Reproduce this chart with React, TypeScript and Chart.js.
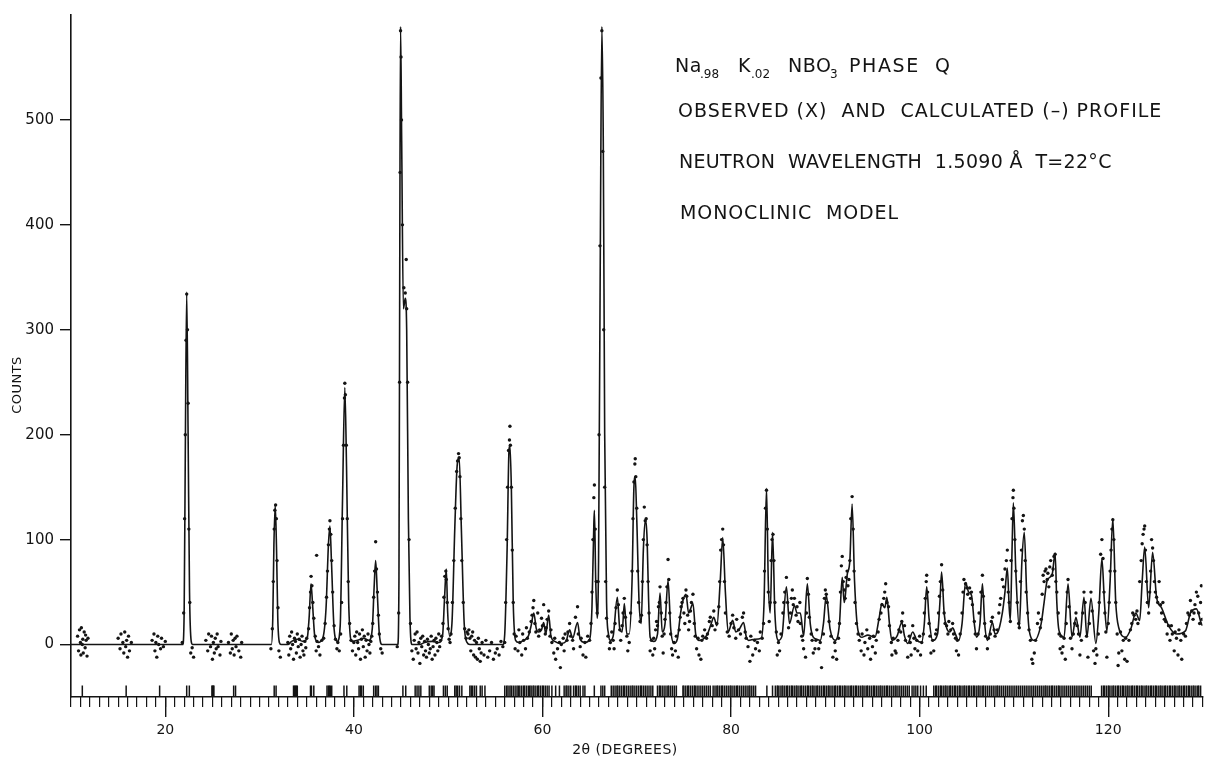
import React, { useEffect, useRef } from "react";
import { Chart, registerables } from "chart.js";
Chart.register(...registerables);

// Calculated profile (2theta in degrees, counts)
const calcX = [10.0,21.85,22.0,22.12,22.27,22.42,22.57,22.75,22.9,31.25,31.4,31.52,31.66,31.8,31.93,32.1,32.3,33.0,33.4,34.0,34.6,35.05,35.25,35.46,35.62,35.85,36.2,36.7,37.05,37.3,37.46,37.62,37.9,38.25,38.55,38.8,39.04,39.22,39.45,39.8,40.4,41.0,41.6,41.95,42.15,42.31,42.48,42.7,43.0,44.65,44.78,44.87,44.95,45.07,45.25,45.45,45.6,45.78,45.95,46.15,47.0,47.5,48.3,49.0,49.4,49.62,49.8,49.95,50.15,50.4,50.7,50.95,51.17,51.4,51.7,52.0,52.3,55.8,56.0,56.25,56.45,56.55,56.7,56.9,57.15,57.5,58.0,58.5,58.8,59.08,59.35,59.6,59.9,60.13,60.35,60.66,60.9,61.3,62.0,62.5,62.88,63.2,63.72,64.0,64.5,65.0,65.25,65.45,65.51,65.65,65.8,65.95,66.15,66.3,66.45,66.6,66.8,67.0,67.2,67.5,67.94,68.2,68.45,68.68,68.95,69.2,69.5,69.7,69.84,70.0,70.25,70.47,70.7,70.89,71.1,71.25,71.42,71.8,72.2,72.47,72.7,73.0,73.32,73.6,73.95,74.3,74.65,74.9,75.22,75.5,75.96,76.25,76.59,77.0,77.5,77.9,78.17,78.5,78.85,79.12,79.4,79.7,80.17,80.5,80.9,81.33,81.6,81.86,82.5,83.2,83.5,83.76,83.95,84.15,84.4,84.65,85.03,85.4,85.87,86.2,86.72,87.0,87.35,87.7,88.09,88.4,88.72,89.1,89.46,89.8,90.1,90.5,91.05,91.5,91.79,92.0,92.1,92.31,92.6,92.84,93.1,93.47,93.9,94.5,95.26,95.7,96.0,96.3,96.53,96.8,97.06,97.6,98.11,98.4,98.74,99.27,99.7,100.22,100.5,100.75,101.0,101.38,101.9,102.15,102.33,102.6,102.86,103.2,103.5,103.8,104.13,104.5,104.87,105.2,105.5,105.8,106.03,106.4,106.66,106.9,107.19,107.72,108.0,108.24,108.77,109.05,109.3,109.5,109.62,109.8,109.94,110.2,110.57,110.85,111.1,111.35,111.63,112.16,112.89,113.2,113.53,114.06,114.37,114.55,114.79,115.32,115.74,116.16,116.58,117.0,117.43,117.74,118.17,118.69,119.0,119.33,119.6,119.86,120.2,120.49,120.8,121.12,121.86,122.4,122.92,123.34,123.6,123.87,124.29,124.71,125.13,125.66,126.4,127.24,128.19,128.72,129.35,129.88,130.0];
const calcY = [0,0,30,180,336,200,50,3,0,0,25,95,133,90,25,2,0,0,3,5,3,6,25,58,38,8,2,6,35,95,113,80,15,3,18,140,245,170,40,3,4,6,4,15,55,80,50,10,0,0,60,380,589,480,320,330,300,120,25,0,0,2,3,2,8,45,72,30,8,20,110,170,178,110,20,2,0,0,10,90,185,190,150,40,4,2,4,8,18,30,15,12,14,21,10,28,8,3,1,3,14,6,21,5,2,5,35,115,128,60,25,80,400,589,480,200,40,10,4,8,45,15,12,39,10,10,60,150,160,120,40,20,90,118,100,45,7,3,10,49,12,20,61,15,1,5,30,42,48,30,39,10,4,5,10,20,26,18,60,102,50,12,23,12,15,21,8,4,5,6,40,149,60,30,107,30,4,8,55,20,37,30,30,8,58,20,7,5,4,20,47,15,4,20,64,40,45,66,80,134,60,13,7,9,7,25,39,35,45,20,4,8,21,8,1,12,4,2,20,55,25,4,10,40,69,30,16,12,16,10,4,20,59,50,47,20,7,20,58,20,4,21,10,11,30,50,73,35,23,90,135,70,16,80,107,50,13,4,20,40,61,67,87,40,13,7,58,7,26,7,45,7,44,1,30,82,40,13,60,120,40,16,7,15,30,23,60,93,35,88,45,35,18,10,13,30,34,20,18];

// Observed counts
const obsX = [10.7,10.8,10.9,11.0,11.05,11.1,11.2,11.25,11.3,11.4,11.5,11.55,11.6,11.7,11.8,
15.0,15.2,15.3,15.5,15.6,15.7,15.8,15.9,16.0,16.1,16.2,16.4,
18.6,18.8,18.9,19.0,19.1,19.2,19.3,19.5,19.6,19.8,20.0,
21.8,21.95,22.05,22.12,22.2,22.27,22.35,22.42,22.5,22.6,22.7,22.85,23.0,
24.3,24.5,24.6,24.8,24.9,25.0,25.1,25.2,25.3,25.4,25.5,25.6,25.8,25.9,
26.7,26.9,27.0,27.1,27.2,27.3,27.4,27.5,27.6,27.8,28.0,28.1,
31.2,31.35,31.45,31.55,31.62,31.7,31.78,31.85,31.95,32.05,32.2,
33.0,33.1,33.2,33.3,33.4,33.5,33.6,33.7,33.8,33.9,34.0,34.1,34.2,34.3,34.4,34.5,34.6,34.7,34.8,34.9,35.0,
35.2,35.3,35.4,35.46,35.55,35.65,35.75,35.9,36.0,36.05,36.1,36.25,36.4,36.6,
36.8,36.95,37.1,37.2,37.3,37.4,37.46,37.55,37.65,37.75,37.9,38.05,38.2,38.3,38.45,
38.6,38.7,38.8,38.9,39.0,39.04,39.1,39.2,39.3,39.4,39.55,39.7,39.85,40.0,
40.1,40.2,40.3,40.4,40.5,40.6,40.7,40.8,40.9,41.0,41.1,41.2,41.3,41.4,41.5,41.6,41.7,41.8,
41.9,42.0,42.1,42.2,42.31,42.4,42.5,42.6,42.7,42.85,43.0,
44.6,44.75,44.85,44.9,44.95,45.0,45.05,45.15,45.3,45.45,45.55,45.6,45.7,45.85,46.0,46.15,
46.3,46.4,46.5,46.6,46.7,46.8,46.9,47.0,47.1,47.2,47.3,47.4,47.5,47.6,47.7,47.8,47.9,48.0,48.1,48.2,48.3,48.4,48.5,48.6,48.7,48.8,48.9,49.0,49.1,49.2,49.3,
49.45,49.55,49.65,49.75,49.8,49.9,50.0,50.1,50.2,50.3,
50.45,50.6,50.75,50.9,51.0,51.1,51.17,51.25,51.35,51.45,51.6,51.75,51.9,52.0,
52.1,52.2,52.3,52.4,52.5,52.6,52.7,52.8,52.9,53.0,53.1,53.2,53.3,53.4,53.5,53.6,53.8,54.0,54.2,54.4,54.6,54.8,55.0,55.2,55.4,55.6,55.8,
56.0,56.1,56.2,56.3,56.4,56.5,56.55,56.6,56.7,56.8,56.9,57.0,57.1,
57.2,57.4,57.5,57.6,57.8,57.9,58.0,58.2,58.3,58.4,58.6,58.8,58.9,59.0,59.08,59.2,59.3,59.5,59.6,59.7,59.9,60.0,60.13,60.3,60.4,60.5,60.66,60.8,60.9,61.0,61.2,61.3,61.4,61.6,61.8,61.9,62.0,62.2,62.3,62.4,62.6,62.7,62.88,63.0,63.2,63.3,63.5,63.72,63.8,64.0,64.1,64.3,64.5,64.6,64.8,65.0,
65.15,65.25,65.35,65.45,65.51,65.6,65.7,65.8,65.9,66.0,66.1,66.2,66.3,66.4,66.5,66.6,66.7,66.8,66.95,67.1,67.2,
67.35,67.5,67.6,67.7,67.8,67.94,68.05,68.2,68.3,68.45,68.55,68.68,68.8,68.95,69.05,69.2,69.35,
69.5,69.6,69.7,69.8,69.84,69.9,70.0,70.1,70.2,70.35,
70.5,70.6,70.7,70.8,70.9,71.0,71.1,71.2,71.3,71.42,71.55,
71.7,71.8,71.9,72.0,72.1,72.2,72.3,72.4,72.47,72.6,72.7,72.8,72.9,73.0,73.1,73.2,73.32,73.4,73.5,73.6,73.7,73.8,73.95,74.1,74.2,74.4,74.5,74.6,74.7,74.8,74.9,75.0,75.1,75.22,75.3,75.4,75.5,75.6,75.7,75.8,75.96,76.1,76.2,76.35,76.5,76.6,76.8,76.9,77.0,
77.2,77.4,77.5,77.7,77.8,78.0,78.17,78.3,78.5,78.7,78.8,78.9,79.0,79.12,79.2,79.3,79.4,79.6,79.8,80.0,80.17,80.3,80.5,80.6,80.8,81.0,81.2,81.33,81.5,81.6,81.8,82.0,82.1,82.3,82.5,82.6,82.8,83.0,83.1,83.3,
83.45,83.55,83.65,83.76,83.85,83.95,84.05,84.15,84.25,84.35,84.45,84.55,84.65,84.8,84.9,85.03,85.15,
85.3,85.5,85.6,85.7,85.87,86.0,86.1,86.3,86.4,86.5,86.6,86.72,86.9,87.0,87.1,87.3,87.35,87.5,87.6,87.7,87.9,88.0,88.09,88.2,88.3,88.5,88.6,88.72,88.9,89.0,89.1,89.3,89.46,89.6,89.8,89.9,90.0,90.1,90.2,90.4,90.6,90.8,91.0,91.05,91.2,91.4,
91.5,91.6,91.7,91.79,91.9,92.0,92.1,92.2,92.31,92.4,92.5,92.6,92.7,92.84,92.95,93.05,93.15,93.3,93.47,
93.6,93.8,93.9,94.1,94.2,94.4,94.5,94.7,94.8,95.0,95.1,95.3,95.4,95.6,95.7,95.9,96.0,96.2,96.3,96.4,96.53,96.7,96.8,97.0,97.06,97.2,97.4,97.5,97.7,97.8,98.0,98.11,98.2,98.4,98.5,98.74,98.9,99.0,99.1,99.27,99.4,99.5,
99.7,99.8,100.0,100.1,100.22,100.4,100.5,100.6,100.7,100.75,100.85,101.0,101.1,101.2,101.38,101.5,101.7,101.8,102.0,102.1,102.2,102.33,102.45,102.6,102.7,102.86,103.0,103.1,103.3,103.5,103.6,103.8,103.9,104.0,104.13,
104.3,104.5,104.6,104.7,104.87,105.0,105.1,105.3,105.4,105.5,105.6,105.8,105.9,106.03,106.2,106.3,106.5,106.66,106.75,106.9,107.0,107.19,107.3,107.5,107.6,107.72,107.9,108.0,108.24,108.4,
108.5,108.6,108.77,108.9,109.05,109.2,109.3,109.4,109.5,109.62,109.7,109.8,109.9,109.94,110.0,110.1,110.2,110.35,110.5,110.57,110.7,110.8,110.9,111.0,111.1,111.2,111.3,111.45,111.6,111.75,111.9,112.0,112.16,
112.3,112.5,112.6,112.8,112.89,113.0,113.1,113.2,113.3,113.4,113.53,113.6,113.7,113.8,113.9,114.06,114.15,114.25,114.37,114.45,114.55,114.7,114.79,114.9,115.0,115.1,115.2,115.32,115.45,
115.55,115.65,115.74,115.85,116.0,116.16,116.3,116.45,116.58,116.7,116.85,117.0,117.15,117.3,117.43,117.55,117.7,117.85,118.0,118.17,118.3,118.45,118.6,118.69,118.8,118.95,119.05,
119.2,119.33,119.45,119.55,119.65,119.75,119.86,120.0,120.1,120.2,120.3,120.4,120.49,120.6,120.7,120.8,120.95,121.05,121.12,121.3,121.45,121.6,121.75,121.86,122.0,
122.2,122.35,122.5,122.6,122.75,122.92,123.05,123.15,123.34,123.5,123.6,123.7,123.8,123.87,123.95,124.05,124.15,124.29,124.4,124.5,124.6,124.71,124.8,124.9,125.0,125.13,125.25,125.4,125.55,125.66,125.8,125.95,126.1,126.25,126.4,
126.55,126.7,126.8,127.0,127.1,127.24,127.4,127.5,127.7,127.8,128.0,128.19,128.3,128.45,128.6,128.72,128.85,129.0,129.1,129.2,129.35,129.5,129.6,129.7,129.8,129.88,129.95];
const obsY = [8,-6,14,2,-10,16,0,5,-8,12,-3,9,4,-11,6,
6,-4,10,2,-8,12,-2,4,-12,8,-6,2,
4,10,-6,2,-12,8,0,-4,6,-2,3,
2,30,120,200,290,334,300,230,110,40,-8,-3,-12,
4,-6,10,-2,8,-14,2,-8,6,-4,10,-2,-10,3,
2,-8,10,-4,4,-10,6,-2,8,-6,-12,2,
-4,15,60,110,128,133,120,80,35,-6,-12,
2,-10,8,-4,12,0,-14,6,3,-8,10,-2,5,-12,0,8,-6,-10,3,-3,6,
15,35,50,65,56,40,25,8,-6,85,3,-2,-10,4,
6,20,45,70,95,110,118,105,80,50,18,5,-4,2,-6,
10,40,120,190,235,249,238,190,120,60,20,4,-6,2,
8,-10,12,2,-4,10,-14,5,14,-2,8,-12,4,-6,10,0,-8,3,
8,20,45,70,98,72,50,28,10,-4,-8,
-2,30,250,450,585,560,500,400,340,335,367,320,250,100,20,-6,
-14,4,10,-4,12,-8,2,-18,6,-2,8,-10,3,-6,-12,5,0,-8,-4,8,-14,-2,4,-10,6,2,-6,10,-2,4,8,
20,45,65,70,62,40,15,5,2,10,
40,80,130,165,175,182,178,160,120,80,40,15,6,12,
10,14,6,-6,8,12,-10,4,-12,2,-14,6,-4,-16,-8,2,-10,4,-12,-6,2,-14,-8,-4,-10,3,-2,
2,40,100,150,185,195,208,190,150,90,40,10,-4,
8,-6,14,2,-10,10,4,-4,16,6,12,22,28,35,42,20,12,30,8,14,25,18,38,10,16,24,32,8,14,2,-8,6,-14,-4,2,-22,0,6,-6,10,4,12,20,8,4,-4,26,36,10,-2,6,-10,2,-12,8,4,
20,50,100,140,152,110,60,30,60,200,380,540,585,470,300,150,60,25,8,-4,2,
12,4,-4,20,35,52,38,14,4,18,30,44,26,8,-6,2,30,
70,120,155,172,177,160,130,70,40,22,
28,60,100,131,118,120,95,60,30,-6,4,
-10,6,-4,14,22,18,36,40,55,30,8,-8,10,24,40,55,81,62,30,10,-4,-10,2,-6,8,-12,14,26,36,40,44,30,20,52,46,28,14,22,32,40,48,20,8,-4,6,-10,-14,4,8,
14,6,10,22,26,18,32,14,20,36,60,90,100,110,95,60,30,12,8,20,28,16,6,24,14,10,26,30,12,6,-2,-16,8,-10,4,-4,2,-6,12,6,
20,70,130,147,110,50,22,40,80,100,105,80,40,12,-10,2,-6,
10,30,40,50,64,40,16,30,44,52,38,44,28,36,22,40,20,8,4,-4,-12,30,63,48,26,10,4,-8,-4,4,14,-4,2,-22,10,44,52,48,40,22,8,-12,2,-6,-14,6,
20,50,75,84,60,52,44,64,70,56,62,80,120,141,110,70,40,20,10,
4,-6,10,-10,2,14,-4,6,-14,-2,8,-8,4,12,24,30,38,44,50,58,40,36,18,2,-10,6,-6,-8,4,14,12,22,30,18,4,-12,8,2,-10,18,6,-4,
4,-6,8,-10,2,10,30,44,60,66,50,20,8,-8,4,-6,10,14,30,46,60,76,52,30,20,18,10,22,14,20,10,6,-6,4,-10,
10,30,50,62,58,54,48,54,44,50,38,22,10,-4,10,30,50,66,46,20,8,-4,6,10,22,26,14,8,14,30,
38,44,62,55,72,80,90,50,40,22,80,120,140,147,130,100,70,40,20,16,60,90,118,123,110,80,50,30,14,4,-14,-18,-8,
4,20,30,16,24,48,66,60,70,72,62,68,55,74,80,66,72,84,86,60,50,30,10,-4,8,-8,-2,6,-14,
20,50,62,36,6,-4,10,20,30,18,10,-10,4,30,50,40,8,-12,20,50,32,-6,-18,-4,-10,10,40,
86,100,82,50,30,12,-12,20,40,70,90,110,119,100,70,40,10,-20,-8,12,-6,4,-14,6,-16,
4,14,20,30,28,24,32,20,60,80,96,105,110,113,90,60,40,30,50,70,100,92,80,60,50,45,40,60,38,30,40,24,22,10,18,
4,18,10,-6,12,6,-10,14,4,-14,10,8,20,30,28,42,32,24,30,38,50,46,30,20,40,56,24];

// Bragg reflection positions (tick marks under the pattern)
const reflX = [11.2,15.85,19.4,22.27,22.55,24.95,25.0,25.1,25.15,27.25,27.45,31.55,31.75,33.6,33.7,33.8,33.9,34.0,35.4,35.5,35.75,37.15,37.3,37.4,37.5,37.65,38.95,39.25,40.55,40.7,40.8,41.0,42.1,42.3,42.45,42.6,45.2,45.5,46.5,46.7,46.9,47.1,48.0,48.2,48.35,48.5,49.5,49.7,49.9,50.7,50.85,51.0,51.2,51.45,52.3,52.45,52.6,52.8,53.0,53.4,53.6,53.9,56.0,56.2,56.35,56.55,56.7,56.9,57.1,57.3,57.45,57.6,57.8,58.0,58.1,58.3,58.5,58.65,58.8,59.0,59.1,59.3,59.5,59.6,59.8,60.0,60.1,60.3,60.5,60.7,61.0,61.4,61.8,62.3,62.5,62.6,62.8,63.0,63.3,63.5,63.6,63.8,64.0,64.3,64.5,65.5,66.2,66.4,66.6,67.3,67.5,67.7,67.9,68.0,68.2,68.4,68.6,68.7,68.9,69.1,69.3,69.5,69.6,69.8,70.0,70.2,70.4,70.5,70.7,70.9,71.1,71.3,71.5,71.7,72.2,72.4,72.5,72.7,72.9,73.1,73.3,73.4,73.6,73.8,74.0,74.2,74.9,75.0,75.2,75.4,75.5,75.7,75.9,76.1,76.2,76.4,76.6,76.8,77.0,77.2,77.4,77.6,77.8,78.1,78.3,78.5,78.6,78.8,79.0,79.1,79.3,79.5,79.7,79.9,80.0,80.2,80.4,80.6,80.7,80.9,81.1,81.3,81.5,81.7,81.9,82.0,82.2,82.4,82.6,83.8,84.4,84.7,84.9,85.0,85.2,85.4,85.5,85.7,85.9,86.0,86.2,86.4,86.5,86.7,86.9,87.0,87.2,87.4,87.5,87.7,87.9,88.1,88.2,88.4,88.6,88.7,88.9,89.1,89.2,89.4,89.6,89.8,89.9,90.1,90.3,90.4,90.6,90.8,91.0,91.1,91.3,91.5,91.6,91.8,92.0,92.1,92.3,92.5,92.7,92.8,93.0,93.2,93.3,93.5,93.7,93.9,94.0,94.2,94.4,94.5,94.7,94.9,95.1,95.2,95.4,95.6,95.8,95.9,96.1,96.3,96.5,96.6,96.8,97.0,97.2,97.4,97.5,97.7,97.9,98.1,98.3,98.5,98.7,98.9,99.2,99.4,99.6,99.8,100.1,100.4,100.7,101.5,101.7,101.8,102.0,102.2,102.3,102.5,102.7,102.8,103.0,103.2,103.3,103.5,103.7,103.8,104.0,104.2,104.3,104.5,104.7,104.8,105.0,105.2,105.3,105.5,105.7,105.8,106.0,106.2,106.3,106.5,106.7,106.8,107.0,107.2,107.4,107.6,107.8,108.0,108.2,108.3,108.5,108.7,108.9,109.1,109.3,109.5,109.7,109.9,110.1,110.3,110.5,110.7,110.9,111.1,111.3,111.5,111.7,111.9,112.1,112.3,112.5,112.7,112.9,113.1,113.3,113.4,113.6,113.8,114.0,114.1,114.3,114.5,114.7,114.8,115.0,115.2,115.4,115.6,115.8,116.0,116.2,116.4,116.6,116.8,117.0,117.2,117.4,117.6,117.8,118.0,118.2,119.3,119.5,119.6,119.8,120.0,120.1,120.3,120.5,120.6,120.8,121.0,121.1,121.3,121.5,121.6,121.8,122.0,122.1,122.3,122.5,122.6,122.8,123.0,123.1,123.3,123.5,123.6,123.8,124.0,124.1,124.3,124.5,124.6,124.8,125.0,125.1,125.3,125.5,125.6,125.8,126.0,126.1,126.3,126.5,126.6,126.8,127.0,127.1,127.3,127.5,127.6,127.8,128.0,128.1,128.3,128.5,128.6,128.8,129.0,129.1,129.3,129.5,129.6,129.8];
const reflLevel = -44.8;

const xMajorTicks = [20, 40, 60, 80, 100, 120];
const yTicks = [0, 100, 200, 300, 400, 500];

const INK = "#141414";
const FONT = "'DejaVu Sans', sans-serif";

export default function App() {
  const ref = useRef<HTMLCanvasElement | null>(null);
  useEffect(() => {
    document.body.style.margin = "0";
    const canvas = ref.current!;
    const annot = {
      id: "annot",
      afterDraw(chart: any) {
        const c = chart.ctx as CanvasRenderingContext2D;
        c.save();
        c.fillStyle = INK;
        c.textBaseline = "alphabetic";
        c.textAlign = "left";
        const big = `19px ${FONT}`;
        const small = `12px ${FONT}`;
        const seg = (t: string, x: number, y: number, f: string, ls: string) => {
          c.font = f;
          (c as any).letterSpacing = ls;
          c.fillText(t, x, y);
        };
        // line 1 with subscripts
        seg("Na", 675, 72, big, "0.5px");
        seg(".98", 700, 78, small, "0px");
        seg("K", 738, 72, big, "0.5px");
        seg(".02", 751, 78, small, "0px");
        seg("NBO", 788, 72, big, "0.5px");
        seg("3", 830, 78, small, "0px");
        seg("PHASE  Q", 849, 72, big, "1.6px");
        seg("OBSERVED (X)  AND  CALCULATED (–) PROFILE", 678, 117, big, "1.0px");
        seg("NEUTRON  WAVELENGTH  1.5090 Å  T=22°C", 679, 168, big, "0.3px");
        seg("MONOCLINIC  MODEL", 680, 219, big, "0.9px");
        // axis titles
        (c as any).letterSpacing = "0.5px";
        c.font = `14px ${FONT}`;
        c.textAlign = "center";
        c.textBaseline = "middle";
        c.fillText("2θ (DEGREES)", 625, 750);
        c.translate(18, 385);
        c.rotate(-Math.PI / 2);
        c.font = `13px ${FONT}`;
        c.fillText("COUNTS", 0, 0);
        c.restore();
      },
    };
    const chart = new Chart(canvas, {
      type: "scatter",
      data: {
        datasets: [
          {
            type: "line",
            data: calcX.map((x, i) => ({ x, y: calcY[i] })),
            borderColor: INK,
            borderWidth: 1.6,
            pointRadius: 0,
            cubicInterpolationMode: "monotone",
            fill: false,
          } as any,
          {
            type: "scatter",
            data: obsX.map((x, i) => ({ x, y: obsY[i] })),
            pointRadius: 1.7,
            pointStyle: "circle",
            backgroundColor: INK,
            borderWidth: 0,
          },
          {
            type: "scatter",
            data: reflX.map((x) => ({ x, y: reflLevel })),
            pointStyle: "line",
            pointRadius: 6,
            rotation: 90,
            borderColor: INK,
            borderWidth: 1.5,
          } as any,
        ],
      },
      options: {
        responsive: false,
        animation: false,
        devicePixelRatio: 1,
        layout: { padding: { top: 15, right: 1, left: 0, bottom: 0 } },
        plugins: { legend: { display: false }, tooltip: { enabled: false } },
        scales: {
          x: {
            type: "linear",
            min: 10,
            max: 130,
            position: "bottom",
            afterBuildTicks: (s: any) => {
              s.ticks = xMajorTicks.map((v) => ({ value: v }));
            },
            afterFit: (s: any) => {
              s.height = 60;
            },
            grid: { drawOnChartArea: false, drawTicks: true, tickLength: 20, color: INK, lineWidth: 1.4 },
            border: { display: true, color: INK, width: 1.6 },
            ticks: { color: INK, font: { family: FONT, size: 14 }, padding: 5, maxRotation: 0, autoSkip: false },
          },
          xMinor: {
            type: "linear",
            min: 10,
            max: 130,
            position: { y: -50 },
            grid: { drawOnChartArea: false, drawTicks: true, tickLength: 10, color: INK, lineWidth: 1.2 },
            border: { display: false },
            ticks: { stepSize: 1, display: false, autoSkip: false },
          },
          y: {
            type: "linear",
            min: -50,
            max: 600,
            position: "left",
            afterBuildTicks: (s: any) => {
              s.ticks = yTicks.map((v) => ({ value: v }));
            },
            afterFit: (s: any) => {
              s.width = 71;
            },
            grid: { drawOnChartArea: false, drawTicks: true, tickLength: 11, color: INK, lineWidth: 1.4 },
            border: { display: true, color: INK, width: 1.6 },
            ticks: { color: INK, font: { family: FONT, size: 15 }, padding: 6 },
          },
        } as any,
      },
      plugins: [annot],
    });
    return () => chart.destroy();
  }, []);
  return <canvas ref={ref} width={1210} height={757} style={{ display: "block" }} />;
}
